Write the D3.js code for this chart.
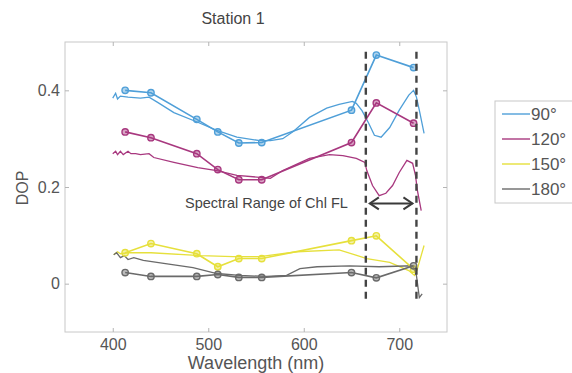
<!DOCTYPE html>
<html><head><meta charset="utf-8">
<script src="https://cdn.jsdelivr.net/npm/d3@7"></script>
<style>body{margin:0;background:#fff;font-family:"Liberation Sans",Arial,sans-serif;}</style>
</head><body><svg id="c" width="572" height="373"></svg>
<script>
// ---- data ----
const title = "Station 1";
const xTicks = [400, 500, 600, 700];
const yTicks = [0, 0.2, 0.4];
const seriesNames = ["90°", "120°", "150°", "180°"];
const seriesColors = ["#4f9fd8", "#a8387f", "#e6e03c", "#6a6a6a"];

// marker-line (sampled) wavelengths
const markerWl = [413, 440, 488, 510, 532, 556, 650, 676, 715];
const marker90  = [0.400, 0.395, 0.340, 0.314, 0.291, 0.292, 0.359, 0.473, 0.447];
const marker120 = [0.314, 0.302, 0.269, 0.236, 0.215, 0.215, 0.292, 0.374, 0.332];
const marker150 = [0.064, 0.083, 0.062, 0.035, 0.052, 0.052, 0.089, 0.099, 0.030];
const marker180 = [0.023, 0.015, 0.015, 0.019, 0.013, 0.013, 0.023, 0.012, 0.037];

// spectra
const spec90Wl  = [400,403,405,408,416,429,438,447,464,489,509,530,554,565,578,589,606,624,637,651,655,661,668,674,681,690,700,710,715,718,721,726];
const spec90    = [0.384,0.394,0.382,0.388,0.386,0.384,0.386,0.375,0.354,0.334,0.317,0.303,0.296,0.296,0.300,0.315,0.344,0.363,0.371,0.377,0.373,0.358,0.332,0.307,0.303,0.323,0.359,0.390,0.400,0.386,0.359,0.311];
const spec120Wl = [400,403,405,408,411,416,419,424,429,438,443,464,489,509,530,554,565,578,606,627,641,655,664,666,672,679,686,693,700,708,714,717,719,723];
const spec120   = [0.269,0.274,0.267,0.274,0.267,0.274,0.269,0.269,0.267,0.269,0.261,0.251,0.240,0.234,0.224,0.220,0.218,0.234,0.259,0.267,0.265,0.259,0.251,0.234,0.203,0.182,0.187,0.203,0.230,0.255,0.249,0.224,0.193,0.151];
const spec150Wl = [401,405,408,416,440,492,526,554,593,637,666,690,710,716,719,726];
const spec150   = [0.060,0.066,0.062,0.064,0.064,0.058,0.056,0.056,0.066,0.070,0.052,0.044,0.027,0.017,0.031,0.079];
const spec180Wl = [401,404,408,412,416,422,432,457,484,509,533,561,582,596,614,648,679,714,718,721,724];
const spec180   = [0.060,0.064,0.054,0.058,0.050,0.054,0.048,0.041,0.033,0.021,0.017,0.015,0.017,0.031,0.035,0.037,0.035,0.037,0.017,-0.029,-0.021];

const rangeBounds = [665, 718];
const rangeLabel = "Spectral Range of Chl FL";

// ---- chart ----
const svg = d3.select("#c");
const L = 65, R = 447, T = 42, B = 332;
const x = d3.scaleLinear().domain([350, 750]).range([L, R]);
const y = d3.scaleLinear().domain([-0.1, 0.5]).range([B, T]);
const txt = "#555";

svg.append("rect").attr("x", L).attr("y", T).attr("width", R - L).attr("height", B - T)
  .attr("fill", "#fff").attr("stroke", "#c8c8c8").attr("stroke-width", 1);

function styleAxis(g, labels) {
  g.select(".domain").remove();
  g.selectAll(".tick line").attr("stroke", "#b5b5b5");
  g.selectAll(".tick text").attr("fill", txt).style("font-size", "16px")
    .style("font-family", "Liberation Sans, Arial, sans-serif");
  if (!labels) g.selectAll(".tick text").remove();
}
svg.append("g").attr("transform", `translate(0,${B})`)
  .call(d3.axisBottom(x).tickValues(xTicks).tickSize(-4).tickPadding(7))
  .call(g => styleAxis(g, true));
svg.append("g").attr("transform", `translate(0,${T})`)
  .call(d3.axisTop(x).tickValues(xTicks).tickSize(-4))
  .call(g => styleAxis(g, false));
svg.append("g").attr("transform", `translate(${L},0)`)
  .call(d3.axisLeft(y).tickValues(yTicks).tickSize(-4).tickPadding(5).tickFormat(d => d === 0 ? "0" : d3.format(".1f")(d)))
  .call(g => styleAxis(g, true));
svg.append("g").attr("transform", `translate(${R},0)`)
  .call(d3.axisRight(y).tickValues(yTicks).tickSize(-4))
  .call(g => styleAxis(g, false));

const line = d3.line().x(d => x(d[0])).y(d => y(d[1]));
const specs = [[spec90Wl, spec90], [spec120Wl, spec120], [spec150Wl, spec150], [spec180Wl, spec180]];
const marks = [marker90, marker120, marker150, marker180];

specs.forEach((s, i) => {
  svg.append("path").datum(s[0].map((w, k) => [w, s[1][k]]))
    .attr("d", line).attr("fill", "none").attr("stroke", seriesColors[i]).attr("stroke-width", 1.3);
});
marks.forEach((m, i) => {
  const pts = markerWl.map((w, k) => [w, m[k]]);
  svg.append("path").datum(pts).attr("d", line).attr("fill", "none")
    .attr("stroke", seriesColors[i]).attr("stroke-width", 1.6);
  svg.append("g").selectAll("circle").data(pts).join("circle")
    .attr("cx", d => x(d[0])).attr("cy", d => y(d[1])).attr("r", 3.2)
    .attr("fill", seriesColors[i]).attr("fill-opacity", 0.45)
    .attr("stroke", seriesColors[i]).attr("stroke-width", 1.4);
});

// dashed range lines
rangeBounds.forEach(w => {
  svg.append("line").attr("x1", x(w)).attr("x2", x(w)).attr("y1", y(0.48)).attr("y2", y(-0.035))
    .attr("stroke", "#444").attr("stroke-width", 2.4).attr("stroke-dasharray", "7,5");
});
// double arrow
const ay = y(0.166), ax1 = x(rangeBounds[0]) + 4, ax2 = x(rangeBounds[1]) - 4;
svg.append("line").attr("x1", ax1).attr("x2", ax2).attr("y1", ay).attr("y2", ay)
  .attr("stroke", "#3a3a3a").attr("stroke-width", 2);
svg.append("path").attr("d", `M${ax1 + 9},${ay - 6}L${ax1},${ay}L${ax1 + 9},${ay + 6}`)
  .attr("fill", "none").attr("stroke", "#3a3a3a").attr("stroke-width", 2);
svg.append("path").attr("d", `M${ax2 - 9},${ay - 6}L${ax2},${ay}L${ax2 - 9},${ay + 6}`)
  .attr("fill", "none").attr("stroke", "#3a3a3a").attr("stroke-width", 2);
svg.append("text").attr("x", 185).attr("y", ay + 5).text(rangeLabel)
  .attr("fill", "#444").style("font-size", "14.5px");

// titles
svg.append("text").attr("x", 233).attr("y", 24).attr("text-anchor", "middle")
  .text(title).attr("fill", "#444").style("font-size", "16px");
svg.append("text").attr("x", 256).attr("y", 369).attr("text-anchor", "middle")
  .text("Wavelength (nm)").attr("fill", txt).style("font-size", "18px");
svg.append("text").attr("transform", "translate(28,188) rotate(-90)").attr("text-anchor", "middle")
  .text("DOP").attr("fill", txt).style("font-size", "16px");

// legend
const lg = svg.append("g");
lg.append("rect").attr("x", 495).attr("y", 101).attr("width", 100).attr("height", 102)
  .attr("fill", "#fff").attr("stroke", "#c8c8c8");
seriesNames.forEach((n, i) => {
  const yy = 114 + i * 25;
  lg.append("line").attr("x1", 502).attr("x2", 530).attr("y1", yy).attr("y2", yy)
    .attr("stroke", seriesColors[i]).attr("stroke-width", 1.4);
  lg.append("text").attr("x", 531).attr("y", yy + 6).text(n).attr("fill", txt).style("font-size", "17px");
});
</script></body></html>
